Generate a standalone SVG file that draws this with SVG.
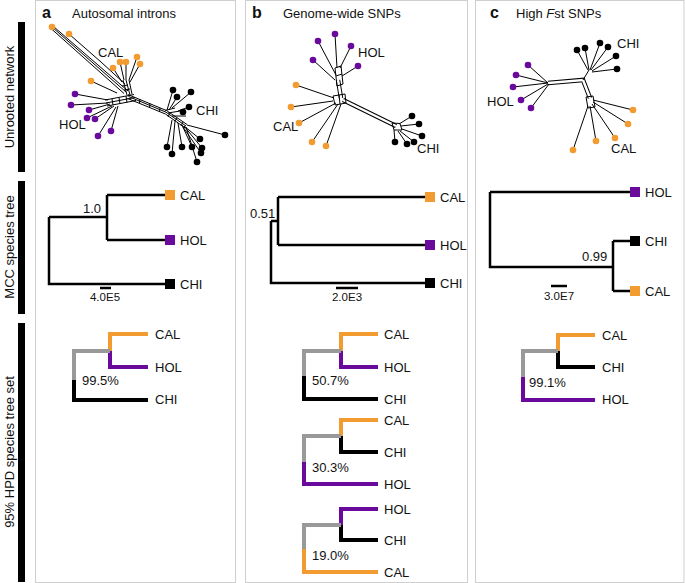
<svg xmlns="http://www.w3.org/2000/svg" width="685" height="583" viewBox="0 0 685 583">
<style>
text{font-family:"Liberation Sans",Arial,sans-serif;fill:#111}
.t13{font-size:13px}
.sc{font-size:11.5px}
.pl{font-size:16px;font-weight:bold}
.panel{fill:#fff;stroke:#cfcfcf;stroke-width:1}
.bar{fill:#000}
.net{stroke:#000;stroke-width:1;fill:none}
.band{stroke:#000;stroke-width:4.5;fill:none}
.bandw{stroke:#fff;stroke-width:2.5;fill:none}
.tr{stroke:#000;stroke-width:2.5;fill:none}
.h{stroke-width:4;fill:none;stroke-linecap:butt}
.o{stroke:#f29b30}.p{stroke:#6a0a9c}.k{stroke:#000}.g{stroke:#999}
.fo{fill:#f29b30}.fp{fill:#6a0a9c}.fk{fill:#000}
</style>
<rect width="685" height="583" fill="#fff"/>

<g id="row-labels">
<rect class="bar" x="18" y="22" width="7" height="150"/>
<rect class="bar" x="18" y="181" width="7" height="133"/>
<rect class="bar" x="18" y="323" width="7" height="259"/>
<text class="t13" transform="translate(14,97) rotate(-90)" text-anchor="middle">Unrooted network</text>
<text class="t13" transform="translate(14,247) rotate(-90)" text-anchor="middle">MCC species tree</text>
<text class="t13" transform="translate(14,452) rotate(-90)" text-anchor="middle">95% HPD species tree set</text>
</g>

<g id="panel-a">
<rect class="panel" x="35.5" y="0.5" width="200" height="582"/>
<text class="pl" x="42" y="18">a</text>
<text class="t13" x="72" y="18">Autosomal introns</text>
</g>
<g id="panel-b">
<rect class="panel" x="245.5" y="0.5" width="222" height="582"/>
<text class="pl" x="252" y="18">b</text>
<text class="t13" x="283" y="18">Genome-wide SNPs</text>
</g>
<g id="panel-c">
<rect class="panel" x="475.5" y="0.5" width="208.5" height="582"/>
<text class="pl" x="490" y="18">c</text>
<text class="t13" x="516" y="18">High <tspan font-style="italic">F</tspan>st SNPs</text>
</g>

<!-- Network a -->
<g id="network-a">
<path class="net" d="M52,27 L126,92 M53.5,26.5 L128,91 M51,28.5 L124,93.5 M69,34 L101,62 M101,62 L125,84"/>
<path class="net" d="M120,62 L124,80 M126,62 L126,80 M137,57 L129,80 M140,64 L130,82 M113,68 L122,82 M91,81 L117,93 M123,80 L127,95 M126,80 L130,95 M129,80 L132,94 M122,86 L128,85 M124,90 L130,89"/>
<path class="net" d="M105,100 L134,94.5 M106,103 L135,97.5 M107,106 L136,100.5 M112,99 L113,105 M119,97.5 L120,104 M126,96 L127,102.5"/>
<path class="net" d="M128,94.6 L166.6,110.6 L187,124.5 M128.5,96.5 L166,112.2 L186,126 M127.4,98.4 L165.4,114 L185,127.8 M140,99 L139.5,103 M150,103.5 L149.5,108 M160,108 L159.5,112 M170,113 L168,117 M177,118 L175,121 M183,122 L181,126 M165,110.5 L175,108 M168,113 L180,111 M172,116 L186,116"/>
<path class="net" d="M75,94 L108,100 M71,105 L108,103 M89,110 L110,104 M87,118 L112,106 M95,119 L114,106 M111,131 L118,106 M98,136 L116,107"/>
<path class="net" d="M173,90 L167,110 M191,92 L172,108 M177,97 L169,110 M189,107 L178,111 M183,112 L180,114 M225,135 L187,125 M200,139 L184,126 M167,147 L172,120 M182,147 L178,123 M192,147 L182,125 M202,148 L184,126 M201,153 L183,127 M172,154 L175,121 M197,162 L186,127"/>
<g class="fo"><circle cx="52" cy="27" r="3.3"/><circle cx="69" cy="34" r="3.3"/><circle cx="120" cy="62" r="3.3"/><circle cx="126" cy="62" r="3.3"/><circle cx="137" cy="57" r="3.3"/><circle cx="140" cy="64" r="3.3"/><circle cx="113" cy="68" r="3.3"/><circle cx="91" cy="81" r="3.3"/></g>
<g class="fp"><circle cx="75" cy="94" r="3.3"/><circle cx="71" cy="105" r="3.3"/><circle cx="89" cy="110" r="3.3"/><circle cx="87" cy="118" r="3.3"/><circle cx="95" cy="119" r="3.3"/><circle cx="111" cy="131" r="3.3"/><circle cx="98" cy="136" r="3.3"/></g>
<g class="fk"><circle cx="173" cy="90" r="3.3"/><circle cx="191" cy="92" r="3.3"/><circle cx="177" cy="97" r="3.3"/><circle cx="189" cy="107" r="3.3"/><circle cx="183" cy="112" r="3.3"/><circle cx="225" cy="135" r="3.3"/><circle cx="200" cy="139" r="3.3"/><circle cx="167" cy="147" r="3.3"/><circle cx="182" cy="147" r="3.3"/><circle cx="192" cy="147" r="3.3"/><circle cx="202" cy="148" r="3.3"/><circle cx="201" cy="153" r="3.3"/><circle cx="172" cy="154" r="3.3"/><circle cx="197" cy="162" r="3.3"/></g>
<text class="t13" x="98" y="57">CAL</text>
<text class="t13" x="59" y="129">HOL</text>
<text class="t13" x="196" y="115">CHI</text>
</g>

<!-- Network b -->
<g id="network-b">
<path class="band" d="M338,80 L341,98 M343,100 L396,126"/>
<path class="bandw" d="M338,80 L341,98 M343,100 L396,126"/>
<path class="net" d="M335,68 L341,66 L343,84 L337,86 Z M336,76 L342,74"/>
<path class="net" d="M333,96 L345,94 L346,103 L335,105 Z M339,95 L340,104"/>
<path class="net" d="M318,41 L336,75 M335,34 L337,68 M351,46 L340,68 M313,60 L335,80 M358,66 L342,76"/>
<path class="net" d="M296,85 L334,98 M291,107 L333,101 M299,123 L336,103 M312,142 L338,104 M326,146 L341,104"/>
<path class="net" d="M392,123 L400,123.5 L402,130 L394,130 Z"/>
<path class="net" d="M412,116 L399,124 M419,124 L401,126 M422,136 L402,129 M395,142 L394,130 M407,144 L398,131 M414,142 L400,131"/>
<g class="fp"><circle cx="318" cy="41" r="3.3"/><circle cx="335" cy="34" r="3.3"/><circle cx="351" cy="46" r="3.3"/><circle cx="313" cy="60" r="3.3"/><circle cx="358" cy="66" r="3.3"/></g>
<g class="fo"><circle cx="296" cy="85" r="3.3"/><circle cx="291" cy="107" r="3.3"/><circle cx="299" cy="123" r="3.3"/><circle cx="312" cy="142" r="3.3"/><circle cx="326" cy="146" r="3.3"/></g>
<g class="fk"><circle cx="412" cy="116" r="3.3"/><circle cx="419" cy="124" r="3.3"/><circle cx="422" cy="136" r="3.3"/><circle cx="395" cy="142" r="3.3"/><circle cx="407" cy="144" r="3.3"/><circle cx="414" cy="142" r="3.3"/></g>
<text class="t13" x="358" y="57">HOL</text>
<text class="t13" x="273" y="131">CAL</text>
<text class="t13" x="417" y="153">CHI</text>
</g>

<!-- Network c -->
<g id="network-c">
<path class="band" d="M548,83 L583,80 L590,98"/>
<path class="bandw" d="M548,83 L583,80 L590,98"/>
<path class="net" d="M583,80 L589,70"/>
<path class="net" d="M586,97 L593,96 L595,107 L588,108 Z"/>
<path class="net" d="M577,50 L588,70 M585,48 L589,70 M600,43 L590,70 M608,47 L591,70 M616,56 L592,71 M617,69 L592,72"/>
<path class="net" d="M528,65 L548,83 M516,75 L548,83 M513,87 L548,83 M521,100 L548,84 M531,108 L549,84"/>
<path class="net" d="M633,110 L593,100 M628,124 L593,102 M615,138 L592,104 M596,141 L590,106 M573,150 L588,106"/>
<g class="fk"><circle cx="577" cy="50" r="3.3"/><circle cx="585" cy="48" r="3.3"/><circle cx="600" cy="43" r="3.3"/><circle cx="608" cy="47" r="3.3"/><circle cx="616" cy="56" r="3.3"/><circle cx="617" cy="69" r="3.3"/></g>
<g class="fp"><circle cx="528" cy="65" r="3.3"/><circle cx="516" cy="75" r="3.3"/><circle cx="513" cy="87" r="3.3"/><circle cx="521" cy="100" r="3.3"/><circle cx="531" cy="108" r="3.3"/></g>
<g class="fo"><circle cx="633" cy="110" r="3.3"/><circle cx="628" cy="124" r="3.3"/><circle cx="615" cy="138" r="3.3"/><circle cx="596" cy="141" r="3.3"/><circle cx="573" cy="150" r="3.3"/></g>
<text class="t13" x="617" y="48">CHI</text>
<text class="t13" x="487" y="106">HOL</text>
<text class="t13" x="611" y="153">CAL</text>
</g>

<!-- MCC trees -->
<g id="mcc-a">
<path class="tr" d="M107,195 H166 M107,240 H166 M107,195 V240 M49,217 H107 M49,217 V284 H166"/>
<rect class="fo" x="165" y="190" width="10" height="10"/>
<rect class="fp" x="165" y="235" width="10" height="10"/>
<rect class="fk" x="165" y="279" width="10" height="10"/>
<text class="t13" x="180" y="200">CAL</text>
<text class="t13" x="180" y="245">HOL</text>
<text class="t13" x="180" y="289">CHI</text>
<text class="t13" x="83" y="213">1.0</text>
<path class="tr" d="M100,288 H111" stroke-width="1.5"/>
<text class="sc" x="105" y="301" text-anchor="middle">4.0E5</text>
</g>
<g id="mcc-b">
<path class="tr" d="M278,197 H426 M278,245 H426 M278,197 V245 M271,221 H278 M271,221 V283 H426"/>
<rect class="fo" x="425" y="192" width="10" height="10"/>
<rect class="fp" x="425" y="240" width="10" height="10"/>
<rect class="fk" x="425" y="278" width="10" height="10"/>
<text class="t13" x="440" y="202">CAL</text>
<text class="t13" x="440" y="250">HOL</text>
<text class="t13" x="440" y="288">CHI</text>
<text class="t13" x="250" y="218">0.51</text>
<path class="tr" d="M336,288 H358" stroke-width="1.5"/>
<text class="sc" x="347" y="301" text-anchor="middle">2.0E3</text>
</g>
<g id="mcc-c">
<path class="tr" d="M490,192 H631 M490,192 V267 H613 M613,241 V291 M613,241 H631 M613,291 H631"/>
<rect class="fp" x="630" y="187" width="10" height="10"/>
<rect class="fk" x="630" y="236" width="10" height="10"/>
<rect class="fo" x="630" y="286" width="10" height="10"/>
<text class="t13" x="645" y="197">HOL</text>
<text class="t13" x="645" y="246">CHI</text>
<text class="t13" x="645" y="296">CAL</text>
<text class="t13" x="582" y="261">0.99</text>
<path class="tr" d="M551,286 H567" stroke-width="1.5"/>
<text class="sc" x="559" y="300" text-anchor="middle">3.0E7</text>
</g>

<!-- HPD tree sets -->
<g id="hpd-a">
<path class="h o" d="M148,334 H110 V351"/>
<path class="h p" d="M110,351 V367 H148"/>
<path class="h g" d="M110,351 H74 V380"/>
<path class="h k" d="M74,380 V400 H148"/>
<text class="t13" x="155" y="339">CAL</text>
<text class="t13" x="155" y="372">HOL</text>
<text class="t13" x="155" y="404">CHI</text>
<text class="t13" x="82" y="385">99.5%</text>
</g>
<g id="hpd-b1">
<path class="h o" d="M378,334 H341 V351"/>
<path class="h p" d="M341,351 V367 H378"/>
<path class="h g" d="M341,351 H304 V376"/>
<path class="h k" d="M304,376 V399 H378"/>
<text class="t13" x="384" y="339">CAL</text>
<text class="t13" x="384" y="372">HOL</text>
<text class="t13" x="384" y="404">CHI</text>
<text class="t13" x="312" y="385">50.7%</text>
</g>
<g id="hpd-b2">
<path class="h o" d="M378,420 H341 V436"/>
<path class="h k" d="M341,436 V452 H378"/>
<path class="h g" d="M341,436 H304 V462"/>
<path class="h p" d="M304,462 V484 H378"/>
<text class="t13" x="384" y="425">CAL</text>
<text class="t13" x="384" y="457">CHI</text>
<text class="t13" x="384" y="489">HOL</text>
<text class="t13" x="312" y="472">30.3%</text>
</g>
<g id="hpd-b3">
<path class="h p" d="M378,509 H341 V525"/>
<path class="h k" d="M341,525 V540 H378"/>
<path class="h g" d="M341,525 H304 V549"/>
<path class="h o" d="M304,549 V572 H378"/>
<text class="t13" x="384" y="514">HOL</text>
<text class="t13" x="384" y="545">CHI</text>
<text class="t13" x="384" y="577">CAL</text>
<text class="t13" x="312" y="560">19.0%</text>
</g>
<g id="hpd-c">
<path class="h o" d="M595,335 H558 V351"/>
<path class="h k" d="M558,351 V367 H595"/>
<path class="h g" d="M558,351 H523 V377"/>
<path class="h p" d="M523,377 V400 H595"/>
<text class="t13" x="602" y="340">CAL</text>
<text class="t13" x="602" y="372">CHI</text>
<text class="t13" x="602" y="404">HOL</text>
<text class="t13" x="529" y="387">99.1%</text>
</g>
</svg>
